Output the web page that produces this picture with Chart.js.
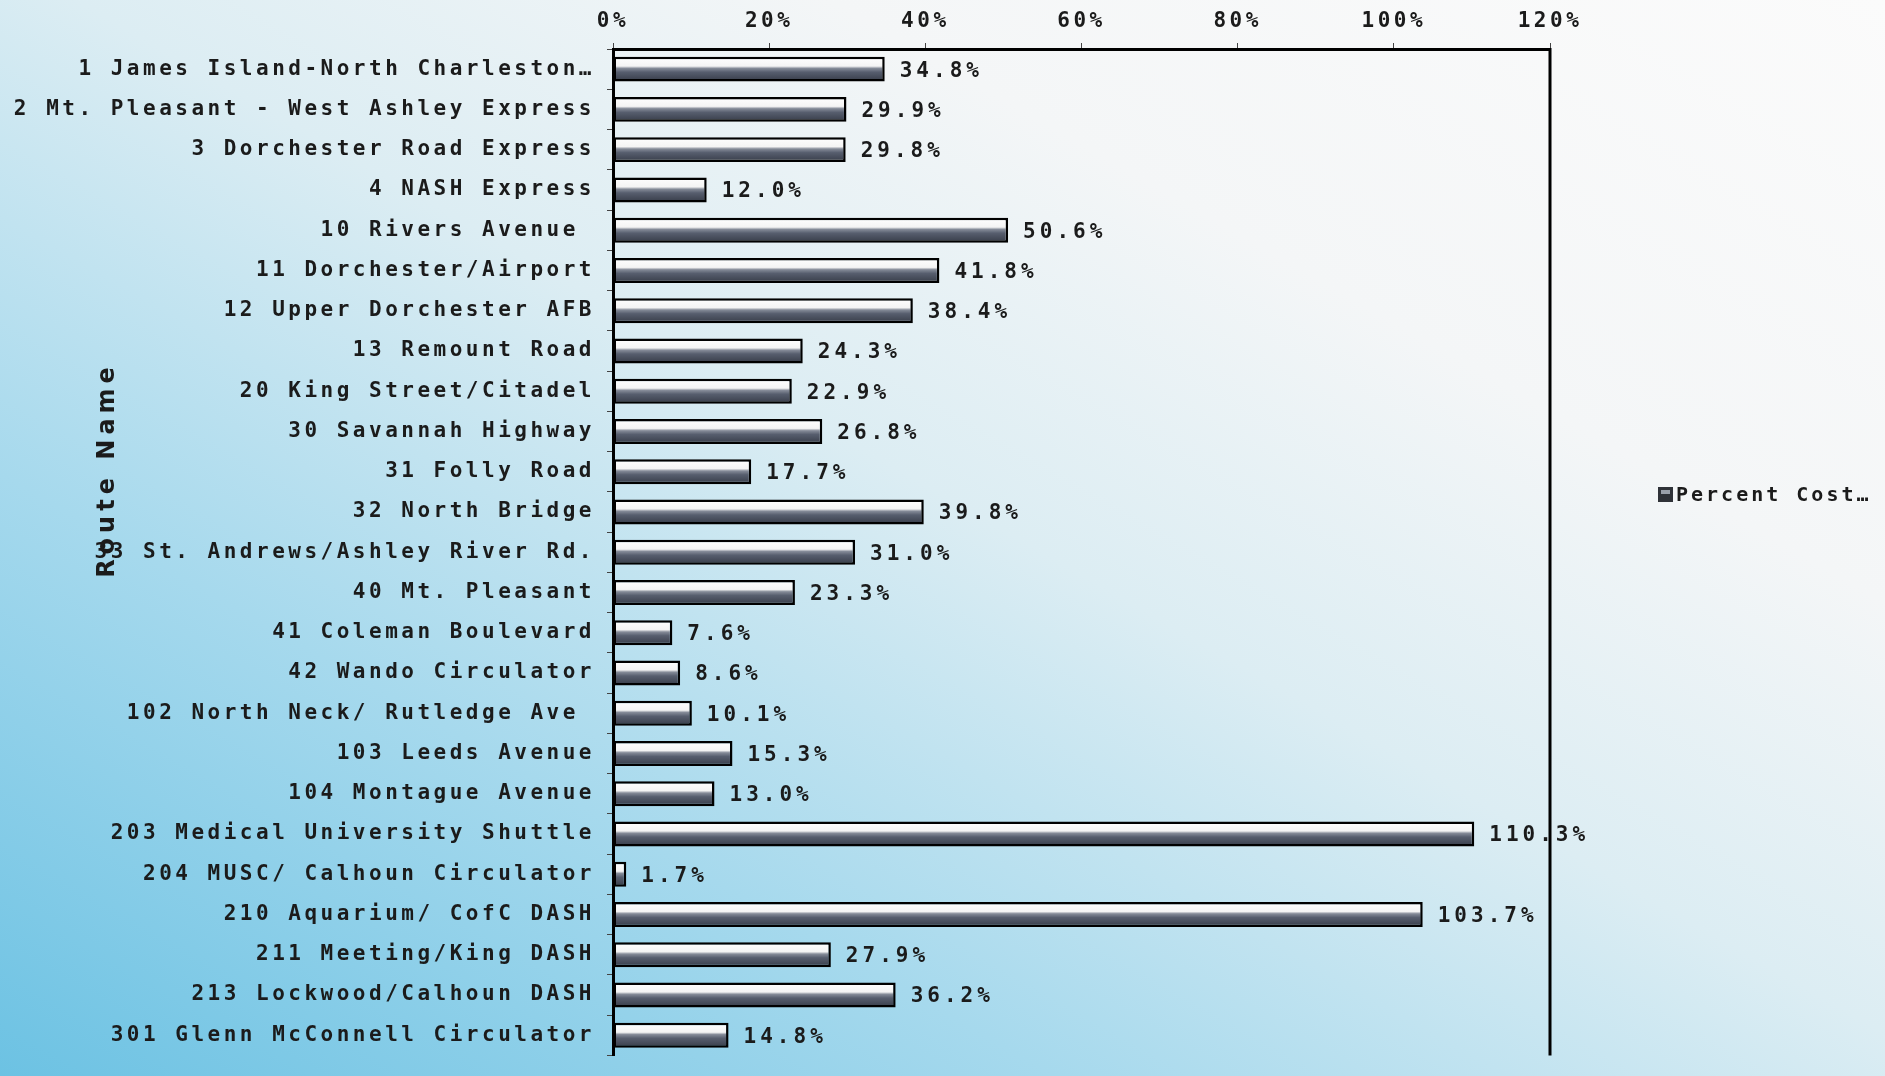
<!DOCTYPE html>
<html>
<head>
<meta charset="utf-8">
<script src="https://cdn.jsdelivr.net/npm/chart.js@4/dist/chart.umd.min.js"></script>
<style>
html, body { margin: 0; padding: 0; overflow: hidden; }
body {
    width: 1885px;
    height: 1076px;
    background: linear-gradient(to top right, #6cc2e3 0%, #a6d9ed 28%, #dcedf3 52%, #f4f6f7 72%, #fbfbfb 100%);
}
#wrap { width: 1885px; height: 1080px; position: relative; }
</style>
</head>
<body>
<div id="wrap"><canvas id="myChart"></canvas></div>
<script>
const routeNames = [
    '1 James Island-North Charleston…',
    '2 Mt. Pleasant - West Ashley Express',
    '3 Dorchester Road Express',
    '4 NASH Express',
    '10 Rivers Avenue ',
    '11 Dorchester/Airport',
    '12 Upper Dorchester AFB',
    '13 Remount Road',
    '20 King Street/Citadel',
    '30 Savannah Highway',
    '31 Folly Road',
    '32 North Bridge',
    '33 St. Andrews/Ashley River Rd.',
    '40 Mt. Pleasant',
    '41 Coleman Boulevard',
    '42 Wando Circulator',
    '102 North Neck/ Rutledge Ave ',
    '103 Leeds Avenue',
    '104 Montague Avenue',
    '203 Medical University Shuttle',
    '204 MUSC/ Calhoun Circulator',
    '210 Aquarium/ CofC DASH',
    '211 Meeting/King DASH',
    '213 Lockwood/Calhoun DASH',
    '301 Glenn McConnell Circulator'
]
const costRecovery = [34.8, 29.9, 29.8, 12.0, 50.6, 41.8, 38.4, 24.3, 22.9, 26.8, 17.7, 39.8, 31.0, 23.3, 7.6, 8.6, 10.1, 15.3, 13.0, 110.3, 1.7, 103.7, 27.9, 36.2, 14.8]
const seriesName = 'Percent Cost…'
const axisTitle = 'Route Name'
const xMin = 0
const xMax = 120
const xStep = 20

const monoFont = 'DejaVu Sans Mono'
const textSpacing = '3.5px'
const barPct = 0.62

function barFill(context) {
    let chart = context.chart
    if (!chart.chartArea) return '#555b6a'
    let yScale = chart.scales.y
    let y = yScale.getPixelForValue(context.dataIndex)
    let half = yScale.height / routeNames.length * barPct / 2
    let g = chart.ctx.createLinearGradient(0, y - half, 0, y + half)
    g.addColorStop(0, '#ffffff')
    g.addColorStop(0.38, '#f4f4f4')
    g.addColorStop(0.47, '#858b98')
    g.addColorStop(0.62, '#575e6e')
    g.addColorStop(1, '#363b47')
    return g
}

// spaced-out lettering for the axis ticks
const spacing = {
    id: 'spacing',
    beforeDraw(chart) {
        chart.ctx.letterSpacing = textSpacing
    }
}

// value text at the end of every bar
const valueLabels = {
    id: 'valueLabels',
    afterDatasetsDraw(chart) {
        let ctx = chart.ctx
        let meta = chart.getDatasetMeta(0)
        ctx.save()
        ctx.font = 'bold 21px "' + monoFont + '"'
        ctx.letterSpacing = '4px'
        ctx.fillStyle = '#1b1b1b'
        ctx.textBaseline = 'middle'
        ctx.textAlign = 'left'
        meta.data.forEach((bar, i) => {
            ctx.fillText(costRecovery[i].toFixed(1) + '%', bar.x + 15, bar.y + 2)
        })
        ctx.restore()
    }
}

// right frame line, rotated axis title and the legend entry
const extras = {
    id: 'extras',
    afterDraw(chart) {
        let ctx = chart.ctx
        let area = chart.chartArea
        ctx.save()
        ctx.strokeStyle = '#000'
        ctx.lineWidth = 3
        ctx.beginPath()
        ctx.moveTo(area.right, area.top - 1)
        ctx.lineTo(area.right, area.bottom)
        ctx.stroke()

        ctx.translate(108, 470)
        ctx.rotate(-Math.PI / 2)
        ctx.font = 'bold 24px "DejaVu Sans"'
        ctx.letterSpacing = '5px'
        ctx.fillStyle = '#1b1b1b'
        ctx.textAlign = 'center'
        ctx.textBaseline = 'middle'
        ctx.fillText(axisTitle, 0, 0)
        ctx.restore()

        ctx.save()
        let lx = area.right + 108
        let ly = 495
        ctx.fillStyle = '#2f3238'
        ctx.fillRect(lx, ly - 8, 15, 15)
        ctx.fillStyle = '#9aa0aa'
        ctx.fillRect(lx + 3, ly - 5, 9, 4)
        ctx.font = 'bold 20px "' + monoFont + '"'
        ctx.letterSpacing = '3px'
        ctx.fillStyle = '#1b1b1b'
        ctx.textBaseline = 'middle'
        ctx.fillText(seriesName, lx + 18, ly + 1)
        ctx.restore()
    }
}

let ctx = document.getElementById('myChart')
let myChart = new Chart(ctx, {
    type: 'bar',
    data: {
        labels: routeNames,
        datasets: [{
            label: seriesName,
            data: costRecovery,
            backgroundColor: barFill,
            borderColor: '#000000',
            borderWidth: 2.5,
            borderSkipped: false,
            barPercentage: barPct,
            categoryPercentage: 1
        }]
    },
    options: {
        indexAxis: 'y',
        responsive: true,
        maintainAspectRatio: false,
        animation: false,
        layout: { padding: { left: 0, right: 335, top: 0, bottom: 2 } },
        plugins: {
            legend: { display: false },
            tooltip: { enabled: false }
        },
        scales: {
            x: {
                position: 'top',
                min: xMin,
                max: xMax,
                afterFit: function(scale) { scale.height = 49 },
                ticks: {
                    stepSize: xStep,
                    padding: 9,
                    color: '#1b1b1b',
                    font: { family: monoFont, size: 21, weight: 'bold' },
                    callback: function(v) { return v + '%' }
                },
                grid: { drawOnChartArea: false, drawTicks: true, tickLength: 6, color: '#444' },
                border: { display: true, color: '#000', width: 3 }
            },
            y: {
                afterFit: function(scale) { scale.width = 613 },
                ticks: {
                    padding: 12,
                    color: '#1b1b1b',
                    autoSkip: false,
                    font: { family: monoFont, size: 21, weight: 'bold' }
                },
                grid: { drawOnChartArea: false, drawTicks: true, tickLength: 6, color: '#444', offset: true },
                border: { display: true, color: '#000', width: 3 }
            }
        }
    },
    plugins: [spacing, valueLabels, extras]
})
</script>
</body>
</html>
